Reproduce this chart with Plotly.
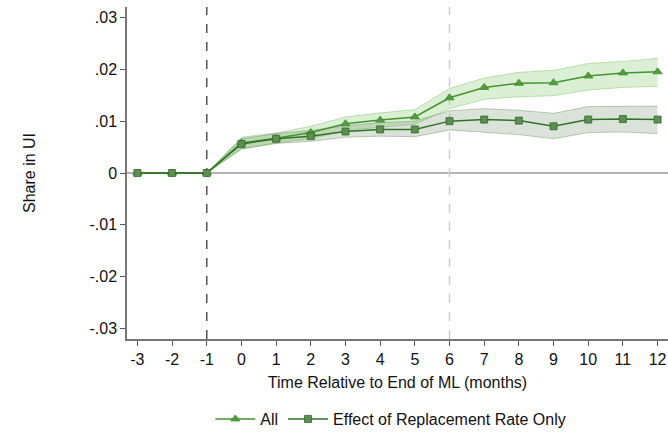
import plotly.graph_objects as go

# Event time (months relative to end of maternity leave)
months = [-3, -2, -1, 0, 1, 2, 3, 4, 5, 6, 7, 8, 9, 10, 11, 12]

# "All" estimates and 95% confidence bounds
all_est = [0, 0, 0, 0.0058, 0.0067, 0.0078, 0.0095, 0.0102, 0.0108, 0.0145, 0.0165, 0.0173, 0.0174, 0.0187, 0.0193, 0.0195]
all_lo = [0, 0, 0, 0.0047, 0.0058, 0.0066, 0.0082, 0.0088, 0.0094, 0.0124, 0.0142, 0.0147, 0.0149, 0.0160, 0.0165, 0.0167]
all_hi = [0, 0, 0, 0.0069, 0.0077, 0.0090, 0.0108, 0.0116, 0.0122, 0.0163, 0.0183, 0.0194, 0.0198, 0.0211, 0.0215, 0.0221]

# "Effect of Replacement Rate Only" estimates and bounds
rr_est = [0, 0, 0, 0.0056, 0.0066, 0.0071, 0.0080, 0.0084, 0.0084, 0.0100, 0.0103, 0.0101, 0.0090, 0.0103, 0.0104, 0.0103]
rr_lo = [0, 0, 0, 0.0046, 0.0057, 0.0061, 0.0069, 0.0071, 0.0070, 0.0083, 0.0079, 0.0074, 0.0066, 0.0078, 0.0079, 0.0076]
rr_hi = [0, 0, 0, 0.0066, 0.0076, 0.0082, 0.0091, 0.0097, 0.0100, 0.0120, 0.0124, 0.0121, 0.0115, 0.0128, 0.0129, 0.0129]

y_ticks = [-0.03, -0.02, -0.01, 0, 0.01, 0.02, 0.03]
y_tick_text = ["-.03", "-.02", "-.01", "0", ".01", ".02", ".03"]

event_line = -1
reform_line = 6

FONT = "Liberation Sans, Arial, Helvetica, sans-serif"

fig = go.Figure()


def band(lo, hi, fill, edge):
    fig.add_trace(go.Scatter(x=months, y=hi, mode="lines", line=dict(color=edge, width=1),
                             showlegend=False, hoverinfo="skip"))
    fig.add_trace(go.Scatter(x=months, y=lo, mode="lines", line=dict(color=edge, width=1),
                             fill="tonexty", fillcolor=fill, showlegend=False, hoverinfo="skip"))


band(all_lo, all_hi, "rgba(150,210,130,0.35)", "rgba(120,195,100,0.45)")
band(rr_lo, rr_hi, "rgba(90,125,80,0.22)", "rgba(80,120,70,0.35)")

fig.add_trace(go.Scatter(
    x=months, y=all_est, mode="lines+markers", name="All",
    line=dict(color="#42962f", width=1.5),
    marker=dict(symbol="triangle-up", size=8, color="#519c3e",
                line=dict(color="#3f8a2e", width=0.8)),
))
fig.add_trace(go.Scatter(
    x=months, y=rr_est, mode="lines+markers", name="Effect of Replacement Rate Only",
    line=dict(color="#2f7325", width=1.5),
    marker=dict(symbol="square", size=7, color="#5f8e55",
                line=dict(color="#2f6a26", width=0.8)),
))

# zero reference and event-time markers
fig.add_hline(y=0, line=dict(color="#9a9a9a", width=1.5), layer="below")
fig.add_vline(x=event_line, line=dict(color="#555555", width=1.5, dash="dash"), layer="below")
fig.add_vline(x=reform_line, line=dict(color="#cfcfcf", width=1.5, dash="dash"), layer="below")

fig.update_layout(
    width=668, height=432,
    margin=dict(l=127, r=0, t=7, b=93, autoexpand=False),
    paper_bgcolor="white", plot_bgcolor="white",
    font=dict(family=FONT, size=16, color="#111111"),
    showlegend=True,
    legend=dict(orientation="h", x=0.585, xanchor="center", xref="container",
                y=0.03, yanchor="middle", yref="container",
                font=dict(size=16), itemwidth=40, traceorder="normal",
                bgcolor="rgba(0,0,0,0)"),
    xaxis=dict(
        range=[-3.3, 12.3], tickmode="array", tickvals=months,
        ticktext=[str(m) for m in months],
        ticks="outside", ticklen=5, tickcolor="#555555", tickwidth=1,
        showline=True, linecolor="#777777", linewidth=1.5,
        showgrid=False, zeroline=False, automargin=False,
        title=dict(text="Time Relative to End of ML (months)", font=dict(size=16), standoff=10),
    ),
    yaxis=dict(
        range=[-0.032, 0.032], tickmode="array", tickvals=y_ticks, ticktext=y_tick_text,
        ticks="outside", ticklen=5, tickcolor="#555555", tickwidth=1,
        showline=True, linecolor="#777777", linewidth=1.5,
        showgrid=False, zeroline=False, automargin=False,
        title=dict(text="Share in UI", font=dict(size=16), standoff=50),
    ),
)

fig.write_html("out.html")
